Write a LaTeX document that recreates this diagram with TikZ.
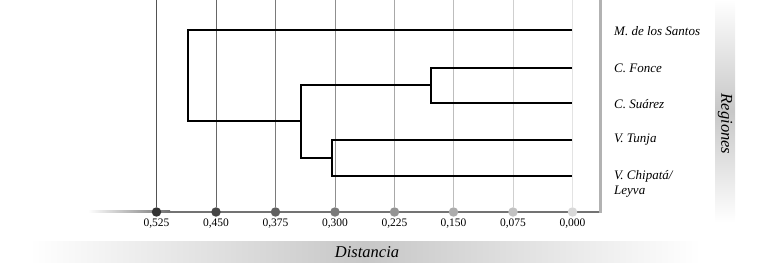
\documentclass[tikz,border=0pt]{standalone}
\usepackage{fontspec}
\setmainfont{Liberation Serif}
\begin{document}
\begin{tikzpicture}[x=1pt,y=-1pt,
  leaf/.style={anchor=west,font=\fontsize{13}{14.5}\selectfont\itshape,inner sep=0pt},
  ticklabel/.style={font=\fontsize{11.5}{13}\selectfont,inner sep=0pt},
  branch/.style={line width=1.8pt,black,line join=miter},
  grid/.style={line width=1pt},
  dot/.style={circle,inner sep=0pt,minimum size=9.5pt}]
\useasboundingbox (0,0) rectangle (770,264);
% bands
\shade[left color=white,right color=white,middle color=black!22] (30,241) rectangle (700,262);
\node[font=\fontsize{16.5}{18}\selectfont\itshape] (dist) at (367,252) {Distancia};
\shade[top color=white,bottom color=white,middle color=black!22] (715,0) rectangle (735,222);
\node[font=\fontsize{16.5}{18}\selectfont\itshape,rotate=-90] (reg) at (725,124) {Regiones};
% axis line
\shade[left color=white,right color=black!55] (88,211) rectangle (170,213);
\fill[black!55] (170,211) rectangle (601,213);
\fill[black!30] (598.5,0) rectangle (601.5,213);
% grid lines and dots
\foreach \x/\c/\dc/\lab [count=\i] in {156.5/68/80/{0,525},216/60/72/{0,450},275.5/52/62/{0,375},335/44/52/{0,300},394.5/34/42/{0,225},453.5/26/32/{0,150},513/19/24/{0,075},572.5/11/15/{0,000}}{
  \coordinate (top\i) at (\x,0);
  \node[dot,fill=black!\dc] (d\i) at (\x,212) {};
  \draw[grid,black!\c] (top\i) -- (d\i);
  \node[ticklabel] (t\i) at (\x,223.5) {\lab};
}
% leaves
\coordinate (l1) at (572,30);
\coordinate (l2) at (572,68);
\coordinate (l3) at (572,103);
\coordinate (l4) at (572,140);
\coordinate (l5) at (572,176);
\coordinate (j23a) at (431,68);
\coordinate (j23b) at (431,103);
\coordinate (j23) at (431,85);
\coordinate (j45a) at (332,140);
\coordinate (j45b) at (332,176);
\coordinate (j45) at (332,158);
\coordinate (jBa) at (301,85);
\coordinate (jBb) at (301,158);
\coordinate (jB) at (301,121);
\coordinate (rA) at (188,30);
\coordinate (rB) at (188,121);
\draw[branch] (l2) -- (j23a) -- (j23b) -- (l3);
\draw[branch] (l4) -- (j45a) -- (j45b) -- (l5);
\draw[branch] (j23) -- (jBa) -- (jBb) -- (j45);
\draw[branch] (l1) -- (rA) -- (rB) -- (jB);
% labels
\node[leaf] (n1) at (614,31.5) {M. de los Santos};
\node[leaf] (n2) at (614,68) {C. Fonce};
\node[leaf] (n3) at (614,104) {C. Suárez};
\node[leaf] (n4) at (614,140) {V. Tunja};
\node[leaf,align=left] (n5) at (614,184) {V. Chipatá/\\Leyva};
\end{tikzpicture}
\end{document}
